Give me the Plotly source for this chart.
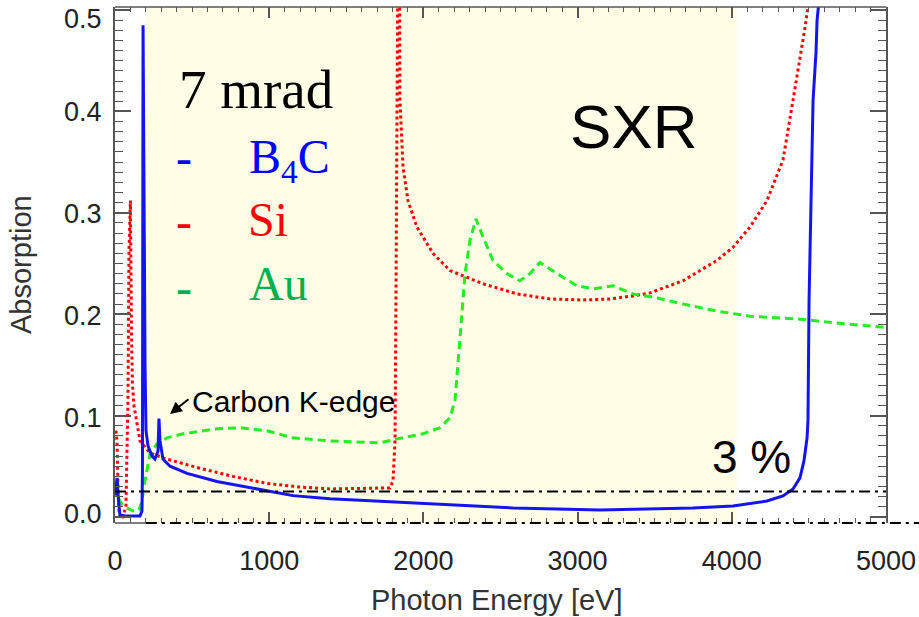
import plotly.graph_objects as go

# ---------------- data ----------------
b4c_energy = [3, 13, 23, 32, 65, 162, 175, 178, 182, 188, 195, 201, 214, 240, 259, 279, 285,
              292, 311, 357, 467, 661, 876, 1154, 1394, 1719, 2043, 2581, 3145, 3748, 4008,
              4228, 4332, 4397, 4442, 4468, 4488, 4494, 4501, 4514, 4520, 4527, 4546, 4553, 4566]
b4c_abs = [0.021, 0.0385, 0.0157, 0.0019, 0.0009, 0.0009, 0.0058, 0.0454, 0.485, 0.263, 0.147,
           0.085, 0.070, 0.060, 0.057, 0.065, 0.097, 0.075, 0.057, 0.050, 0.043, 0.035, 0.029,
           0.021, 0.018, 0.0155, 0.013, 0.0089, 0.0068, 0.0089, 0.0108, 0.0157, 0.0207, 0.0276,
           0.0385, 0.0553, 0.078, 0.095, 0.213, 0.305, 0.349, 0.411, 0.458, 0.490, 0.510]

si_energy = [6, 13, 19, 26, 39, 52, 71, 84, 91, 100, 107, 113, 123, 136, 162, 227, 337, 551,
             765, 986, 1200, 1394, 1783, 1803, 1816, 1822, 1829, 1835, 1838, 1845, 1848, 1868,
             1900, 1958, 2062, 2173, 2387, 2607, 2821, 3035, 3210, 3359, 3470, 3684, 3904, 4008,
             4118, 4228, 4332, 4397, 4442, 4475, 4494, 4507]
si_abs = [0.085, 0.075, 0.035, 0.0058, -0.002, 0.0, 0.011, 0.115, 0.263, 0.312, 0.184, 0.131,
          0.110, 0.097, 0.075, 0.063, 0.057, 0.048, 0.040, 0.033, 0.0295, 0.0276, 0.0286, 0.0355,
          0.075, 0.213, 0.411, 0.56, 0.90, 0.56, 0.411, 0.345, 0.312, 0.286, 0.260, 0.243, 0.230,
          0.220, 0.215, 0.214, 0.215, 0.218, 0.221, 0.233, 0.253, 0.266, 0.286, 0.312, 0.352,
          0.411, 0.451, 0.483, 0.503, 0.52]

au_energy = [6, 19, 52, 117, 156, 175, 188, 208, 227, 272, 337, 441, 661, 811, 986, 1154, 1394,
             1719, 1829, 1997, 2108, 2173, 2205, 2231, 2250, 2270, 2302, 2341, 2387, 2451, 2542,
             2626, 2691, 2756, 2866, 2996, 3100, 3230, 3359, 3515, 3684, 3904, 4118, 4332, 4442,
             4767, 5000]
au_abs = [0.0306, 0.0187, 0.0108, 0.0058, 0.0068, 0.0157, 0.0306, 0.045, 0.062, 0.072, 0.078,
          0.082, 0.087, 0.088, 0.085, 0.078, 0.075, 0.073, 0.077, 0.082, 0.088, 0.098, 0.115,
          0.164, 0.201, 0.240, 0.273, 0.294, 0.276, 0.253, 0.240, 0.233, 0.240, 0.251, 0.240,
          0.228, 0.225, 0.228, 0.220, 0.216, 0.210, 0.203, 0.198, 0.196, 0.195, 0.190, 0.187]

threshold_energy = [0, 5000]
threshold_abs = [0.025, 0.025]

sxr_band = [200, 4030]          # shaded soft-x-ray band [eV]
x_ticks = [0, 1000, 2000, 3000, 4000, 5000]
y_ticks = [0.0, 0.1, 0.2, 0.3, 0.4, 0.5]
y_ticklabels = ["0.0", "0.1", "0.2", "0.3", "0.4", "0.5"]

# ---------------- figure ----------------
W, H = 919, 617
ML, MR, MT, MB = 115, 33, 7, 94
PW, PH = W - ML - MR, H - MT - MB


def px(xpix):
    return (xpix - ML) / PW


def py(ypix):
    return (H - MB - ypix) / PH


fig = go.Figure()

fig.add_trace(go.Scatter(x=si_energy, y=si_abs, mode="lines",
                         line=dict(color="#ff0000", width=3, dash="dot"), name="Si"))
fig.add_trace(go.Scatter(x=au_energy, y=au_abs, mode="lines",
                         line=dict(color="#22ee22", width=3, dash="8px,5px"), name="Au"))
fig.add_trace(go.Scatter(x=b4c_energy, y=b4c_abs, mode="lines",
                         line=dict(color="#1414f0", width=3), name="B4C"))
fig.add_trace(go.Scatter(x=threshold_energy, y=threshold_abs, mode="lines",
                         line=dict(color="#000000", width=2, dash="11px,5px,3px,5px"),
                         name="3 %"))

# shaded SXR band
fig.add_shape(type="rect", xref="x", yref="paper", x0=sxr_band[0], x1=sxr_band[1], y0=0, y1=1,
              fillcolor="#fffde6", line=dict(width=0), layer="below")
# frame lines: top solid, bottom solid up to band then dash-dot out past the plot
band_start = px(ML + sxr_band[0] * PW / 5000)
fig.add_shape(type="line", xref="paper", yref="paper", x0=0, x1=1, y0=1, y1=1,
              line=dict(color="#555555", width=1.5))
fig.add_shape(type="line", xref="paper", yref="paper", x0=0, x1=band_start,
              y0=0, y1=0, line=dict(color="#555555", width=1.5))
fig.add_shape(type="line", xref="paper", yref="paper", x0=band_start,
              x1=px(W), y0=0, y1=0, line=dict(color="#000000", width=2, dash="11px,5px,3px,5px"))

sans = "Liberation Sans, Arial, Helvetica, sans-serif"
serif = "Liberation Serif, Times New Roman, serif"

ann = [
    dict(text="7 mrad", x=px(256), y=py(90), font=dict(family=serif, size=55, color="#000000")),
    dict(text="-", x=px(184), y=py(158), font=dict(family=serif, size=48, color="#0000ff")),
    dict(text="B<sub>4</sub>C", x=px(289), y=py(160), font=dict(family=serif, size=48, color="#0000ff")),
    dict(text="-", x=px(184), y=py(222), font=dict(family=serif, size=48, color="#ff0000")),
    dict(text="Si", x=px(268), y=py(220), font=dict(family=serif, size=48, color="#ff0000")),
    dict(text="-", x=px(184), y=py(287), font=dict(family=serif, size=48, color="#00b050")),
    dict(text="Au", x=px(278), y=py(283), font=dict(family=serif, size=48, color="#00b050")),
    dict(text="SXR", x=px(633), y=py(127), font=dict(family=sans, size=62, color="#000000")),
    dict(text="3 %", x=px(751), y=py(457), font=dict(family=sans, size=46, color="#000000")),
    dict(text="Carbon K-edge", x=px(190), y=py(401), xanchor="left",
         font=dict(family=sans, size=30, color="#000000")),
    dict(text="Absorption", x=px(21), y=py(265), textangle=-90,
         font=dict(family=sans, size=29, color="#333333")),
    dict(text="Photon Energy [eV]", x=px(497), y=py(600),
         font=dict(family=sans, size=29, color="#333333")),
]
# y tick labels placed where the reference prints them
ylabel_pix = [514, 418, 316, 214, 112, 19]
for lab, yp in zip(y_ticklabels, ylabel_pix):
    ann.append(dict(text=lab, x=px(104), y=py(yp), xanchor="right",
                    font=dict(family=sans, size=27, color="#222222")))

for a in ann:
    a.setdefault("xanchor", "center")
    fig.add_annotation(xref="paper", yref="paper", yanchor="middle", showarrow=False, **a)

# arrow for Carbon K-edge
fig.add_annotation(xref="paper", yref="paper", x=px(170), y=py(414), text="",
                   showarrow=True, arrowhead=2, arrowsize=1.2, arrowwidth=2, arrowcolor="#000000",
                   ax=20, ay=-16)

axis_common = dict(ticks="inside", tickcolor="#555555", tickwidth=1.5, showgrid=False,
                   zeroline=False, ticklabeloverflow="allow",
                   tickfont=dict(family=sans, size=27, color="#222222"))

fig.update_xaxes(range=[0, 5000], tickvals=x_ticks, ticklen=11, mirror="ticks", showline=True,
                 linecolor="rgba(0,0,0,0)", linewidth=1, ticklabelstandoff=14,
                 minor=dict(dtick=100, ticklen=5, tickcolor="#555555", ticks="inside", tickwidth=1),
                 **axis_common)
fig.update_yaxes(range=[-0.006, 0.503], tickvals=y_ticks, ticktext=y_ticklabels, ticklen=16,
                 mirror="ticks", showline=True, linecolor="#555555", linewidth=1.5,
                 showticklabels=False,
                 minor=dict(dtick=0.01, tick0=0, ticklen=8, tickcolor="#555555", ticks="inside",
                            tickwidth=1),
                 **axis_common)

fig.update_layout(width=W, height=H, margin=dict(l=ML, r=MR, t=MT, b=MB, autoexpand=False),
                  paper_bgcolor="white", plot_bgcolor="white", showlegend=False)

fig.write_html("out.html")
